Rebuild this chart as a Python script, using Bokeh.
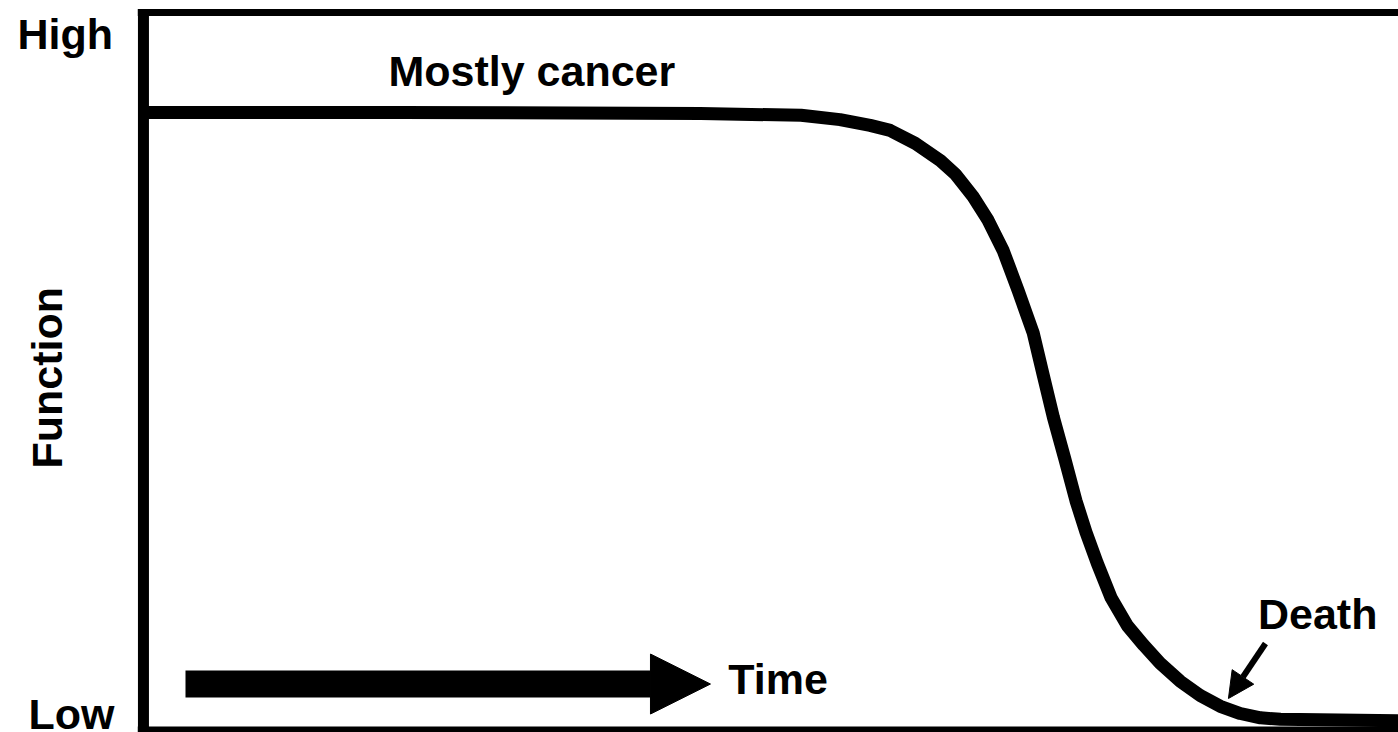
from bokeh.plotting import figure
from bokeh.models import Range1d, Label, Arrow, NormalHead, ColumnDataSource
from bokeh.embed import file_html
from bokeh.resources import INLINE
import math

# Curve: time (0 = left border, 100 = right edge), function (0 = Low, 100 = High)
time = [0.0, 20.5, 44.4, 52.4, 55.5, 57.9, 59.5, 61.5, 63.5, 64.7, 66.1, 67.3, 68.5,
        69.7, 70.9, 71.7, 72.5, 73.4, 74.3, 75.1, 76.0, 77.1, 78.4, 79.7, 81.0,
        82.6, 84.2, 85.8, 87.4, 89.0, 90.6, 100.0]
function = [86.1, 86.1, 85.95, 85.7, 85.1, 84.3, 83.6, 81.8, 79.4, 77.5, 74.4, 71.1, 66.9,
            61.3, 55.4, 49.5, 43.7, 38.0, 32.1, 27.7, 23.4, 18.6, 14.7, 12.0, 9.5,
            7.0, 5.0, 3.5, 2.5, 1.9, 1.7, 1.5]

y_labels = ["High", "Low"]
axis_title = "Function"
curve_label = "Mostly cancer"
time_label = "Time"
death_label = "Death"

FONT = "Liberation Sans"
FS = "43px"

p = figure(width=1398, height=732,
           x_range=Range1d(-11.39, 100.0), y_range=Range1d(-0.14, 101.67),
           output_backend="svg", toolbar_location=None,
           x_axis_type=None, y_axis_type=None, min_border=0,
           outline_line_color=None, background_fill_color="white",
           border_fill_color="white")
p.grid.visible = False

# frame lines (left, top, bottom)
p.segment(x0=[0, -0.45, -0.45], y0=[-1.0, 100.0, 0.0], x1=[0, 101, 101], y1=[100.45, 100.0, 0.0],
          line_color="black", line_width=[11, 7, 10])

# curve
src = ColumnDataSource(dict(t=time, f=function))
p.line("t", "f", source=src, line_color="black", line_width=13, line_join="round")

# text labels
def lab(x, y, txt, angle=0.0, align="left"):
    p.add_layout(Label(x=x, y=y, text=txt, text_font=FONT, text_font_size=FS,
                       text_font_style="bold",
                       text_color="black", angle=angle, text_align=align,
                       text_baseline="alphabetic"))

lab(-10.04, 97.06, y_labels[0])
lab(-9.16, 2.5, y_labels[1])
lab(-7.72, 49.2, axis_title, angle=math.pi / 2, align="center")
lab(19.52, 91.93, curve_label)
lab(46.6, 7.36, time_label)
lab(88.8, 16.41, death_label)

# Time arrow
p.add_layout(Arrow(x_start=3.35, y_start=6.6, x_end=45.18, y_end=6.6,
                   line_width=27, line_color="black",
                   end=NormalHead(size=60, fill_color="black", line_color="black", line_width=1)))
# Death arrow
p.add_layout(Arrow(x_start=89.4, y_start=12.24, x_end=86.45, y_end=4.59,
                   line_width=6, line_color="black",
                   end=NormalHead(size=26, fill_color="black", line_color="black", line_width=1)))

open("out.html", "w").write(file_html(p, INLINE))
